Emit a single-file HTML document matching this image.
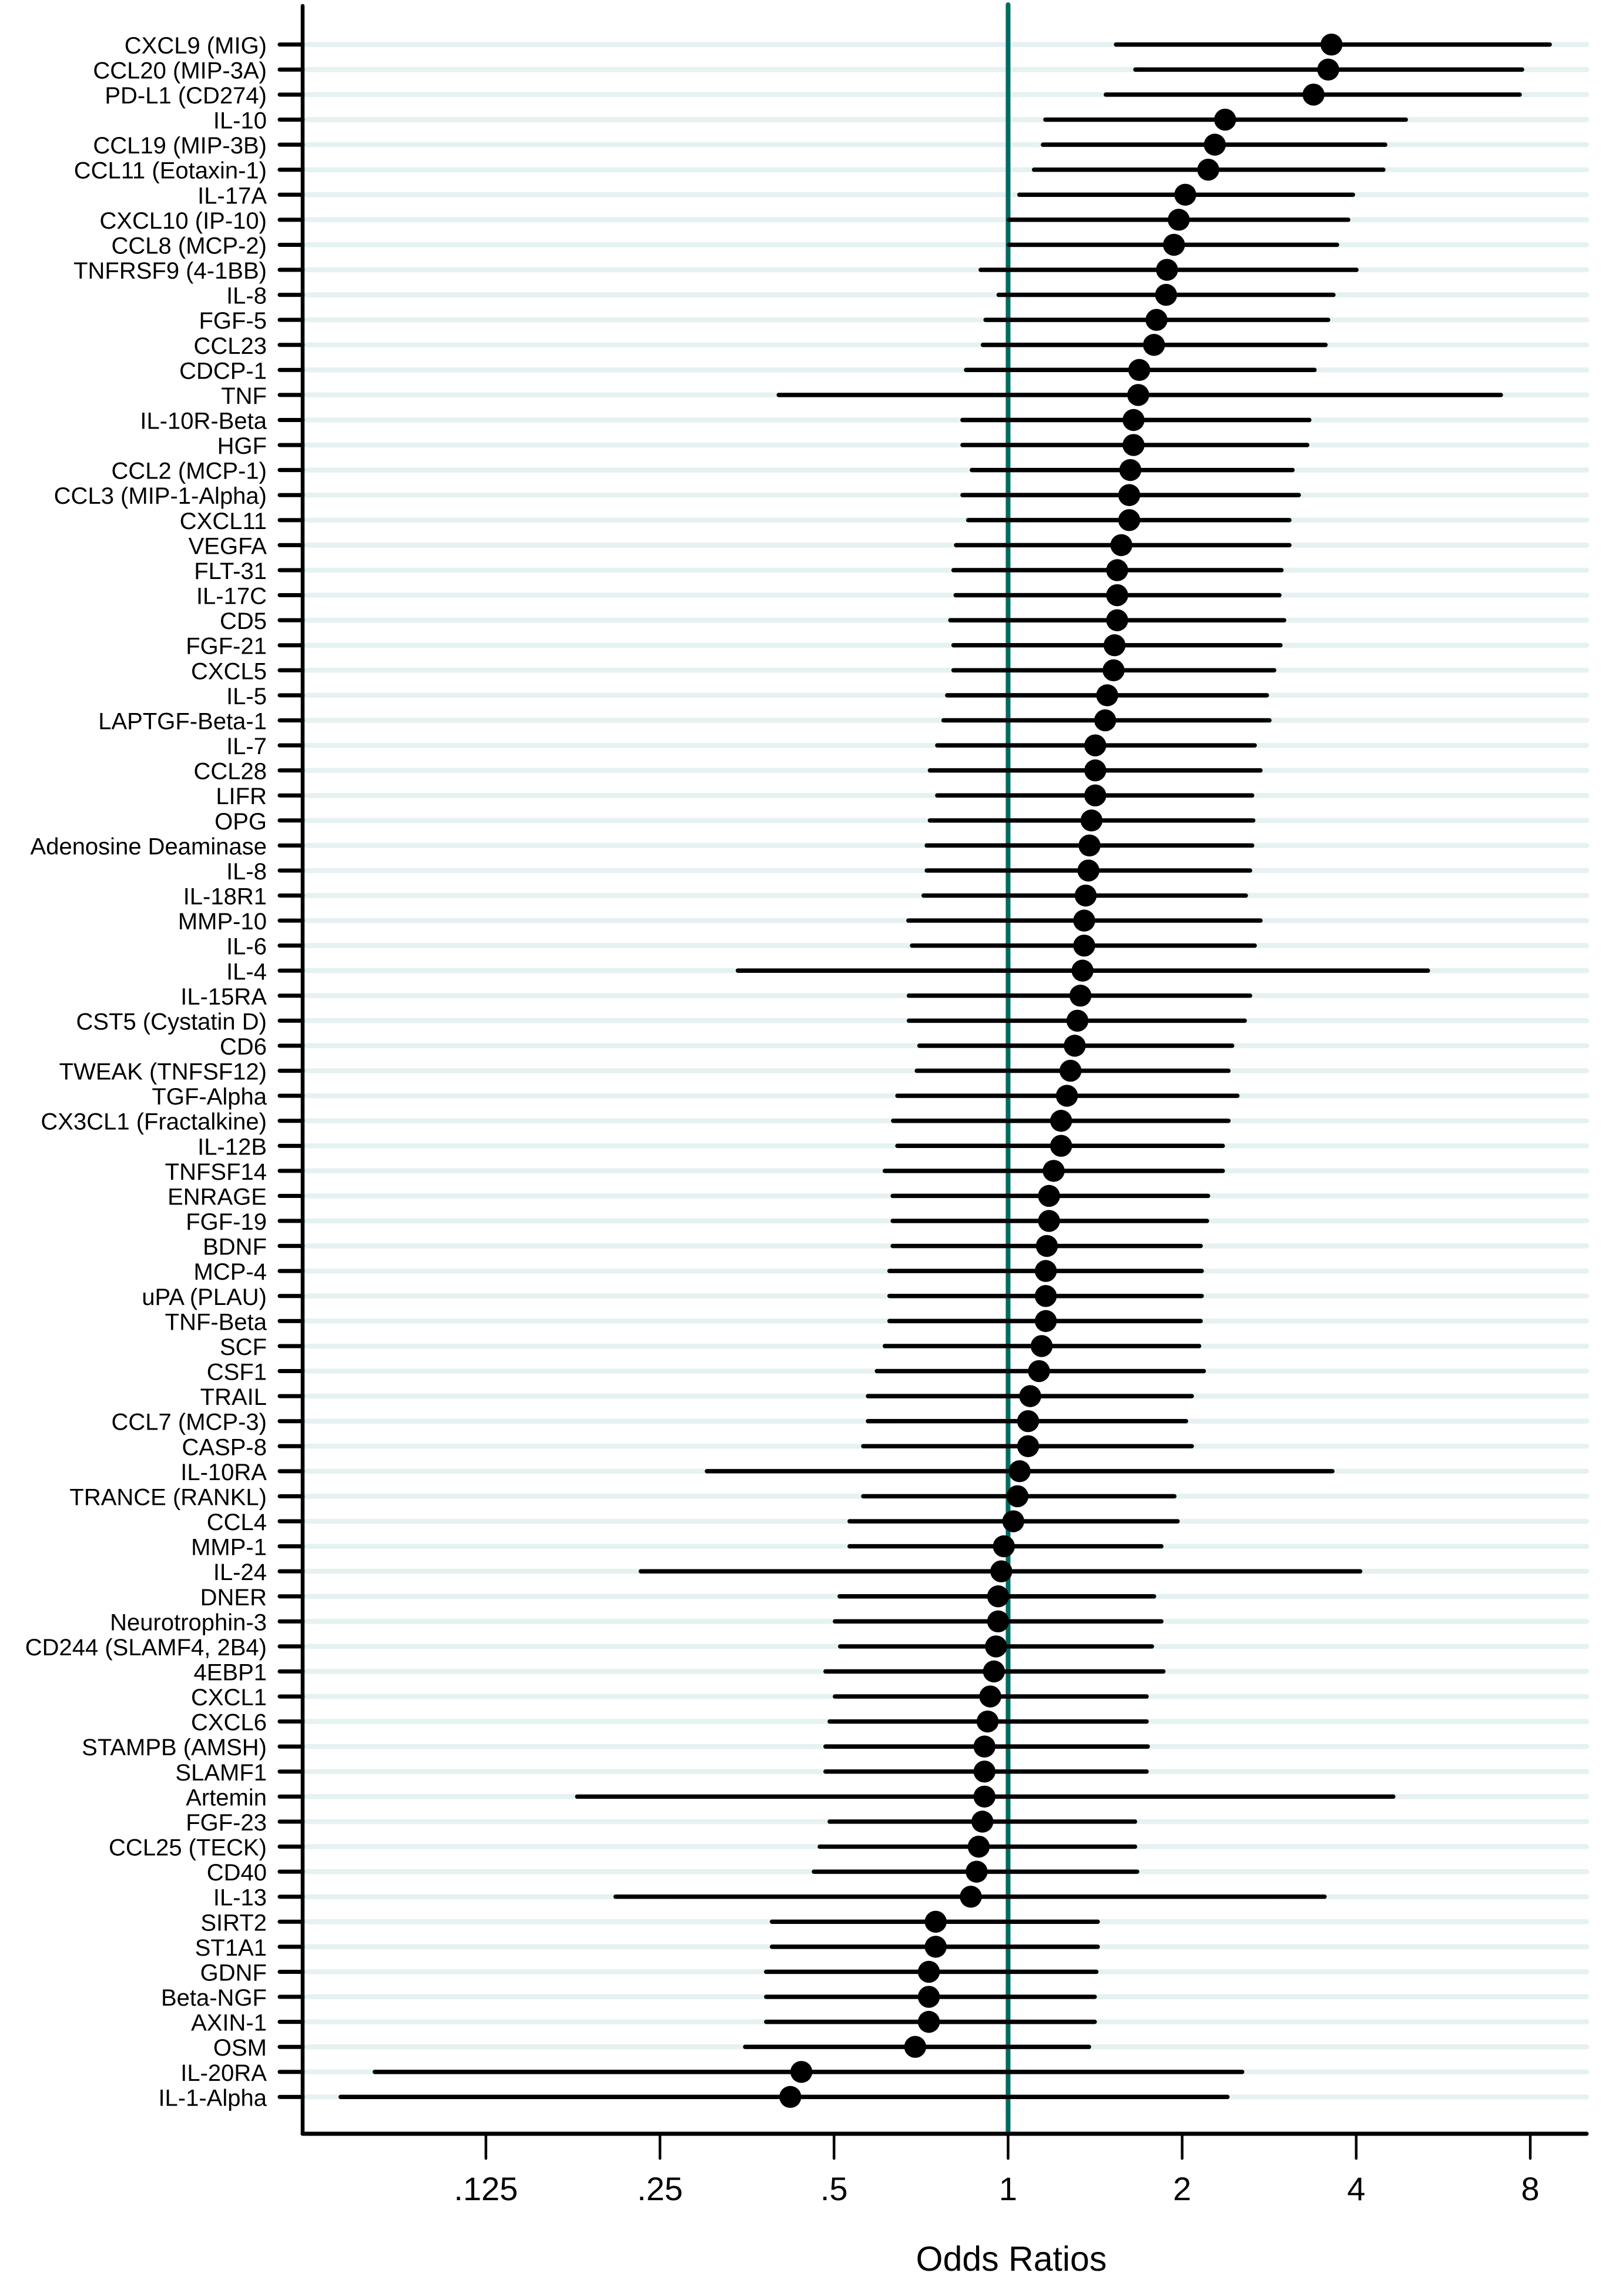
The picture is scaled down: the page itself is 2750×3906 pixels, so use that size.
<!DOCTYPE html>
<html lang="en">
<head>
<meta charset="utf-8">
<title>Odds ratios forest plot</title>
<style>
  html, body { margin: 0; padding: 0; background: #fff; }
  svg { display: block; }
  text { font-family: "Liberation Sans", Arial, sans-serif; fill: #000; }
</style>
</head>
<body>
<svg id="chart" xmlns="http://www.w3.org/2000/svg" width="2750" height="3906" viewBox="0 0 2750 3906">
  <rect x="0" y="0" width="2750" height="3906" fill="#ffffff"/>
  <g id="grid"></g>
  <line id="ref" y1="8" y2="3630" stroke="#006b61" stroke-width="8" stroke-linecap="round"/>
  <g id="bars"></g>
  <g id="points"></g>
  <line x1="515" y1="10" x2="515" y2="3630" stroke="#000" stroke-width="6.5" stroke-linecap="round"/>
  <line x1="515" y1="3630" x2="2700" y2="3630" stroke="#000" stroke-width="7" stroke-linecap="round"/>
  <g id="yticks"></g>
  <g id="xticks"></g>
  <text x="1721" y="3863" font-size="59" text-anchor="middle">Odds Ratios</text>
</svg>
<script>
const categories = ["CXCL9 (MIG)","CCL20 (MIP-3A)","PD-L1 (CD274)","IL-10","CCL19 (MIP-3B)","CCL11 (Eotaxin-1)","IL-17A","CXCL10 (IP-10)","CCL8 (MCP-2)","TNFRSF9 (4-1BB)",
"IL-8","FGF-5","CCL23","CDCP-1","TNF","IL-10R-Beta","HGF","CCL2 (MCP-1)","CCL3 (MIP-1-Alpha)","CXCL11",
"VEGFA","FLT-31","IL-17C","CD5","FGF-21","CXCL5","IL-5","LAPTGF-Beta-1","IL-7","CCL28",
"LIFR","OPG","Adenosine Deaminase","IL-8","IL-18R1","MMP-10","IL-6","IL-4","IL-15RA","CST5 (Cystatin D)",
"CD6","TWEAK (TNFSF12)","TGF-Alpha","CX3CL1 (Fractalkine)","IL-12B","TNFSF14","ENRAGE","FGF-19","BDNF","MCP-4",
"uPA (PLAU)","TNF-Beta","SCF","CSF1","TRAIL","CCL7 (MCP-3)","CASP-8","IL-10RA","TRANCE (RANKL)","CCL4",
"MMP-1","IL-24","DNER","Neurotrophin-3","CD244 (SLAMF4, 2B4)","4EBP1","CXCL1","CXCL6","STAMPB (AMSH)","SLAMF1",
"Artemin","FGF-23","CCL25 (TECK)","CD40","IL-13","SIRT2","ST1A1","GDNF","Beta-NGF","AXIN-1",
"OSM","IL-20RA","IL-1-Alpha"];

const oddsRatios = [3.625,3.578,3.375,2.373,2.278,2.219,2.025,1.973,1.936,1.883,
1.876,1.806,1.788,1.686,1.679,1.648,1.648,1.627,1.620,1.620,
1.570,1.544,1.544,1.544,1.528,1.522,1.484,1.472,1.415,1.415,
1.415,1.394,1.383,1.377,1.362,1.354,1.354,1.345,1.334,1.318,
1.304,1.282,1.264,1.235,1.235,1.199,1.177,1.177,1.167,1.162,
1.162,1.162,1.143,1.131,1.092,1.083,1.083,1.047,1.038,1.021,
0.9834,0.9732,0.9611,0.9611,0.9531,0.9452,0.9315,0.9217,0.9103,0.9103,
0.9103,0.9028,0.8896,0.8822,0.8621,0.7495,0.7495,0.7294,0.7294,0.7294,
0.6908,0.439,0.4201];

const ciLower = [1.537,1.660,1.476,1.160,1.149,1.109,1.046,1.003,1.003,0.8965,
0.9631,0.9141,0.9045,0.846,0.4012,0.8338,0.834,0.8657,0.834,0.8532,
0.813,0.8046,0.8114,0.7945,0.8046,0.8046,0.7847,0.7733,0.7542,0.7325,
0.7542,0.7325,0.7233,0.7233,0.7143,0.6723,0.6822,0.3409,0.6737,0.6737,
0.7025,0.6952,0.6435,0.6328,0.6435,0.612,0.6315,0.6315,0.6315,0.6236,
0.6236,0.6236,0.612,0.5931,0.5724,0.5724,0.5617,0.3014,0.5617,0.532,
0.532,0.2316,0.5113,0.5018,0.5124,0.4833,0.5018,0.4914,0.4833,0.4833,
0.1798,0.4914,0.4723,0.4615,0.2095,0.3905,0.3905,0.3816,0.3816,0.3816,
0.351,0.0803,0.0701];

const ciUpper = [8.644,7.743,7.670,4.873,4.490,4.456,3.948,3.874,3.706,4.004,
3.653,3.577,3.540,3.388,7.115,3.318,3.291,3.104,3.182,3.065,
3.065,2.970,2.946,3.002,2.958,2.885,2.802,2.831,2.670,2.732,
2.643,2.654,2.643,2.621,2.577,2.732,2.670,5.322,2.621,2.566,
2.441,2.405,2.492,2.405,2.351,2.351,2.217,2.208,2.153,2.162,
2.162,2.153,2.140,2.180,2.078,2.031,2.078,3.638,1.939,1.964,
1.841,4.064,1.788,1.841,1.773,1.856,1.736,1.736,1.744,1.736,
4.636,1.658,1.658,1.672,3.526,1.429,1.429,1.421,1.412,1.412,
1.380,2.540,2.395];

const xTickValues = [0.125,0.25,0.5,1,2,4,8];
const xTickLabels = [".125",".25",".5","1","2","4","8"];
const referenceValue = 1;

const NS = "http://www.w3.org/2000/svg";
function xScale(v) { return 1715.5 + 296.2 * Math.log2(v); }
function yScale(i) { return 75.8 + 42.58 * i; }
function slug(s) { return s.toLowerCase().replace(/[^a-z0-9]+/g, "-").replace(/^-|-$/g, ""); }
function make(tag, parentId) {
  const el = document.createElementNS(NS, tag);
  document.getElementById(parentId).appendChild(el);
  return el;
}
function setLine(el, x1, y1, x2, y2, color, width, cap) {
  el.setAttribute("x1", x1);
  el.setAttribute("y1", y1);
  el.setAttribute("x2", x2);
  el.setAttribute("y2", y2);
  el.setAttribute("stroke", color);
  el.setAttribute("stroke-width", width);
  el.setAttribute("stroke-linecap", cap);
}

const refLine = document.getElementById("ref");
refLine.setAttribute("x1", xScale(referenceValue));
refLine.setAttribute("x2", xScale(referenceValue));

categories.forEach(function (name, i) {
  const y = yScale(i);
  const key = slug(name) + "-" + (i + 1);

  const grid = make("line", "grid");
  
  
  setLine(grid, 515, y, 2700, y, "#e6f1f1", 8.5, "round");

  const bar = make("line", "bars");
  
  
  setLine(bar, xScale(ciLower[i]), y, xScale(ciUpper[i]), y, "#000", 7.4, "round");

  const dot = make("circle", "points");
  
  
  dot.setAttribute("cx", xScale(oddsRatios[i]));
  dot.setAttribute("cy", y);
  dot.setAttribute("r", 18.7);
  dot.setAttribute("fill", "#000");

  const tick = make("line", "yticks");
  
  
  setLine(tick, 476, y, 515, y, "#000", 7, "round");

  const label = make("text", "yticks");
  
  
  label.setAttribute("x", 454);
  label.setAttribute("y", y + 15);
  label.setAttribute("font-size", 40);
  label.setAttribute("text-anchor", "end");
  label.textContent = name;
});

xTickValues.forEach(function (v, i) {
  const x = xScale(v);

  const tick = make("line", "xticks");
  
  
  setLine(tick, x, 3633, x, 3672, "#000", 4.5, "round");

  const label = make("text", "xticks");
  
  
  label.setAttribute("x", x);
  label.setAttribute("y", 3743);
  label.setAttribute("font-size", 56);
  label.setAttribute("text-anchor", "middle");
  label.textContent = xTickLabels[i];
});
</script>
</body>
</html>
